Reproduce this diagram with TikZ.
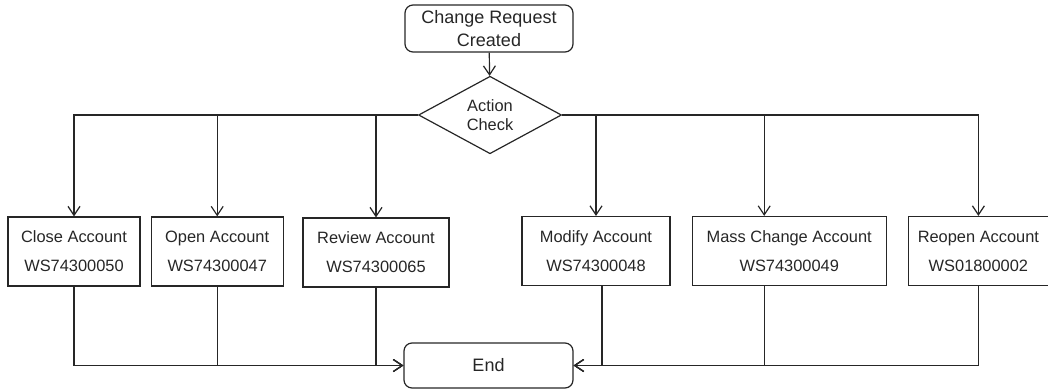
\documentclass[tikz,border=0pt]{standalone}
\usepackage{fontspec}
\setmainfont{Liberation Sans}
\usetikzlibrary{shapes.geometric, arrows.meta, positioning}

\tikzset{
  process/.style={draw, rectangle, minimum height=69pt, inner sep=0pt, align=center,
                  font=\fontsize{16.4}{29}\selectfont},
  terminal/.style={draw, rectangle, rounded corners=8pt, inner sep=0pt, align=center,
                   font=\fontsize{18}{23}\selectfont},
  decision/.style={draw, diamond, minimum width=143pt, minimum height=58pt, inner sep=0pt,
                   align=center, font=\fontsize{16.4}{19}\selectfont}
}

\begin{document}
\begin{tikzpicture}[x=1pt, y=-1pt, >={Straight Barb[length=9pt,width=12pt]},
                    line width=1.2pt, color=black!85]
\useasboundingbox (0,0) rectangle (1048,388);

  \node[terminal, minimum width=168pt, minimum height=47pt] (start) at (489,28.5) {Change Request\\Created};
  \node[decision] (check) at (490,115) {Action\\Check};

  % account actions
  \node[process, minimum width=132pt] (close) at (74,251.5) {Close Account\\WS74300050};
  \node[process, minimum width=132pt, right=10pt of close] (open) {Open Account\\WS74300047};
  \node[process, minimum width=146pt] (review) at (376,252.5) {Review Account\\WS74300065};
  \node[process, minimum width=148pt] (modify) at (596,251) {Modify Account\\WS74300048};
  \node[process, minimum width=194pt, right=21pt of modify] (mass) {Mass Change Account\\WS74300049};
  \node[process, minimum width=140pt, right=21pt of mass] (reopen) {Reopen Account\\WS01800002};

  \node[terminal, minimum width=169pt, minimum height=45pt] (end) at (488.5,365.5) {End};

  \draw[->] (start) -- (check);
  \draw[->] (check.west) -| (close);
  \draw[->] (check.west) -| (open);
  \draw[->] (check.west) -| (review);
  \draw[->] (check.east) -| (modify);
  \draw[->] (check.east) -| ([xshift=-25pt]mass.north);
  \draw[->] (check.east) -| (reopen);

  \draw[->] (close) |- (end);
  \draw[->] (open) |- (end);
  \draw[->] (review) |- (end);
  \draw[->] ([xshift=6pt]modify.south) |- (end);
  \draw[->] ([xshift=-25pt]mass.south) |- (end);
  \draw[->] (reopen) |- (end);
\end{tikzpicture}
\end{document}
